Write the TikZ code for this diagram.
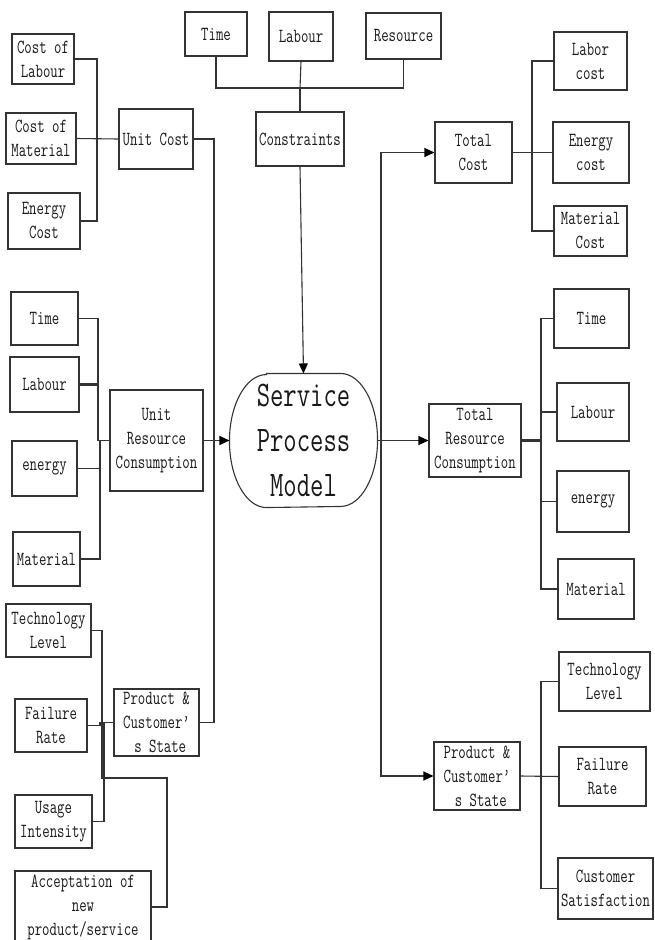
\documentclass[tikz,border=0pt]{standalone}
\usepackage{fontspec}
\setmonofont[FakeStretch=0.72]{Latin Modern Mono}
\usetikzlibrary{arrows.meta}
\begin{document}
\begin{tikzpicture}[x=1pt,y=-1pt,
  line width=1.1pt,
  color=black!80,
  box/.style={draw=black!80,line width=1.1pt,inner sep=0pt,align=center,
    font=\ttfamily\fontsize{20}{24}\selectfont,text=black!90},
  bigtext/.style={inner sep=0pt,align=center,
    font=\ttfamily\fontsize{36}{45}\selectfont,text=black!90},
  arr/.style={-{Triangle[length=10pt,width=9pt,fill=black,color=black]}},
  heavy/.style={line width=2.2pt}]
\useasboundingbox (0,0) rectangle (654,940);
\clip (0,0) rectangle (654,940);

% ---- constraints ----
\node[box,minimum width=62pt,minimum height=44pt] (tt) at (216,34) {Time};
\node[box,minimum width=64pt,minimum height=49pt] (lt) at (301,36.5) {Labour};
\node[box,minimum width=75pt,minimum height=46pt] (rt) at (403.5,36) {Resource};
\node[box,minimum width=88pt,minimum height=54pt] (cons) at (300,139) {Constraints};

% ---- unit cost ----
\node[box,minimum width=62pt,minimum height=50pt] (cl) at (43,59) {Cost of\\Labour};
\node[box,minimum width=70pt,minimum height=51pt] (cm) at (41,138.5) {Cost of\\Material};
\node[box,minimum width=72pt,minimum height=56pt] (ec) at (44,221) {Energy\\Cost};
\node[box,minimum width=74pt,minimum height=60pt] (uc) at (156,139) {Unit Cost};

% ---- unit resource consumption ----
\node[box,minimum width=67pt,minimum height=53pt] (ltime) at (44.5,318.5) {Time};
\node[box,minimum width=69pt,minimum height=55pt] (llab) at (44.5,384.5) {Labour};
\node[box,minimum width=65pt,minimum height=55pt] (leng) at (44.5,468.5) {energy};
\node[box,minimum width=67pt,minimum height=54pt] (lmat) at (46.5,559) {Material};
\node[box,minimum width=93pt,minimum height=101pt] (urc) at (156.5,440.5) {Unit\\Resource\\Consumption};

% ---- product state (input) ----
\node[box,minimum width=85pt,minimum height=53pt] (ltl) at (48.5,630.5) {Technology\\Level};
\node[box,minimum width=72pt,minimum height=53pt] (lfr) at (51,725.5) {Failure\\Rate};
\node[box,minimum width=77pt,minimum height=53pt] (lui) at (53.5,821.5) {Usage\\Intensity};
\node[box,minimum width=136pt,minimum height=72pt] (lac) at (83,907) {Acceptation of\\new\\product/service};
\node[box,minimum width=85pt,minimum height=67pt] (lps) at (156.5,722.5) {Product \&\\Customer’\\\ s State};

% ---- central model ----
\node[bigtext,minimum width=147pt,minimum height=133pt] (spm) at (303.5,440.5) {Service\\Process\\Model};
\draw ([xshift=37pt]spm.north west) -- ([xshift=-37pt]spm.north east)
  arc[start angle=90,end angle=-90,x radius=37pt,y radius=66.5pt]
  -- ([xshift=37pt]spm.south west)
  arc[start angle=270,end angle=90,x radius=37pt,y radius=66.5pt] -- cycle;

% ---- total cost ----
\node[box,minimum width=77pt,minimum height=61pt] (tc) at (473.5,152.5) {Total\\Cost};
\node[box,minimum width=73pt,minimum height=58pt] (lc) at (590.5,61) {Labor\\cost};
\node[box,minimum width=76pt,minimum height=61pt] (enc) at (591,152.5) {Energy\\cost};
\node[box,minimum width=73pt,minimum height=50pt] (mc) at (590.5,231) {Material\\Cost};

% ---- total resource consumption ----
\node[box,minimum width=92pt,minimum height=73pt] (trc) at (475,440.5) {Total\\Resource\\Consumption};
\node[box,minimum width=75pt,minimum height=59pt] (rtime) at (591.5,318.5) {Time};
\node[box,minimum width=72pt,minimum height=58pt] (rlab) at (593,412) {Labour};
\node[box,minimum width=72pt,minimum height=61pt] (reng) at (593,501.5) {energy};
\node[box,minimum width=76pt,minimum height=60pt] (rmat) at (596,589) {Material};

% ---- product state (output) ----
\node[box,minimum width=86pt,minimum height=68pt] (rps) at (477,776) {Product \&\\Customer’\\\ s State};
\node[box,minimum width=91pt,minimum height=59pt] (rtl) at (604.5,681.5) {Technology\\Level};
\node[box,minimum width=87pt,minimum height=59pt] (rfr) at (602.5,776.5) {Failure\\Rate};
\node[box,minimum width=95pt,minimum height=61pt] (rcs) at (605.5,888.5) {Customer\\Satisfaction};

% ---- junction points ----
\coordinate (jt) at (300,88);
\coordinate (j1) at (97,139);
\coordinate (ls) at (214,441);
\coordinate (rs) at (381,441);
\coordinate (j2) at (532,152.5);
\coordinate (j3) at (541,440.5);
\coordinate (j4) at (541,776);
\coordinate (j5) at (98,440.5);
\coordinate (j6) at (100,440.5);
\coordinate (j7) at (100,722.5);
\coordinate (j8) at (104,722.5);
\coordinate (a1) at (102,778);
\coordinate (a2) at (167,778);

% constraints tree
\draw (tt.south) |- (jt) -| (rt.south);
\draw (lt.south) -- (jt);
\draw[heavy] (jt) -- (cons.north);
\draw[arr] (cons.south) -- (spm.north);

% unit cost tree
\draw (cl.east) -| (j1);
\draw (ec.east) -| (j1);
\draw (cm.east) -- (uc.west);

% unit resource consumption tree
\draw (ltime.east) -| (j5);
\draw[heavy] (llab.east) -| (j5);
\draw (leng.east) -| (j6);
\draw (lmat.east) -| (j6);
\draw (j5) -- (urc.west);

% product state tree (input)
\draw (ltl.east) -| (a1) -- (a2) |- (lac.east);
\draw (lfr.east) -| (j7) -- (lps.west);
\draw (lui.east) -| (j8);

% inputs into the model
\draw (uc.east) -| (ls);
\draw (lps.east) -| (ls);
\draw[arr] (urc.east) -- (spm.west);

% outputs of the model
\draw[arr] (spm.east) -- (trc.west);
\draw[arr] (rs) |- (tc.west);
\draw[arr] (rs) |- (rps.west);

% total cost tree
\draw (tc.east) -- (enc.west);
\draw (lc.west) -| (j2);
\draw (mc.west) -| (j2);

% total resource consumption tree
\draw[heavy] (trc.east) -- (j3);
\draw (rtime.west) -| (j3);
\draw (rlab.west) -| (j3);
\draw (reng.west) -| (j3);
\draw (rmat.west) -| (j3);

% product state tree (output)
\draw (rps.east) -- (rfr.west);
\draw (rtl.west) -| (j4);
\draw (rcs.west) -| (j4);
\end{tikzpicture}
\end{document}
